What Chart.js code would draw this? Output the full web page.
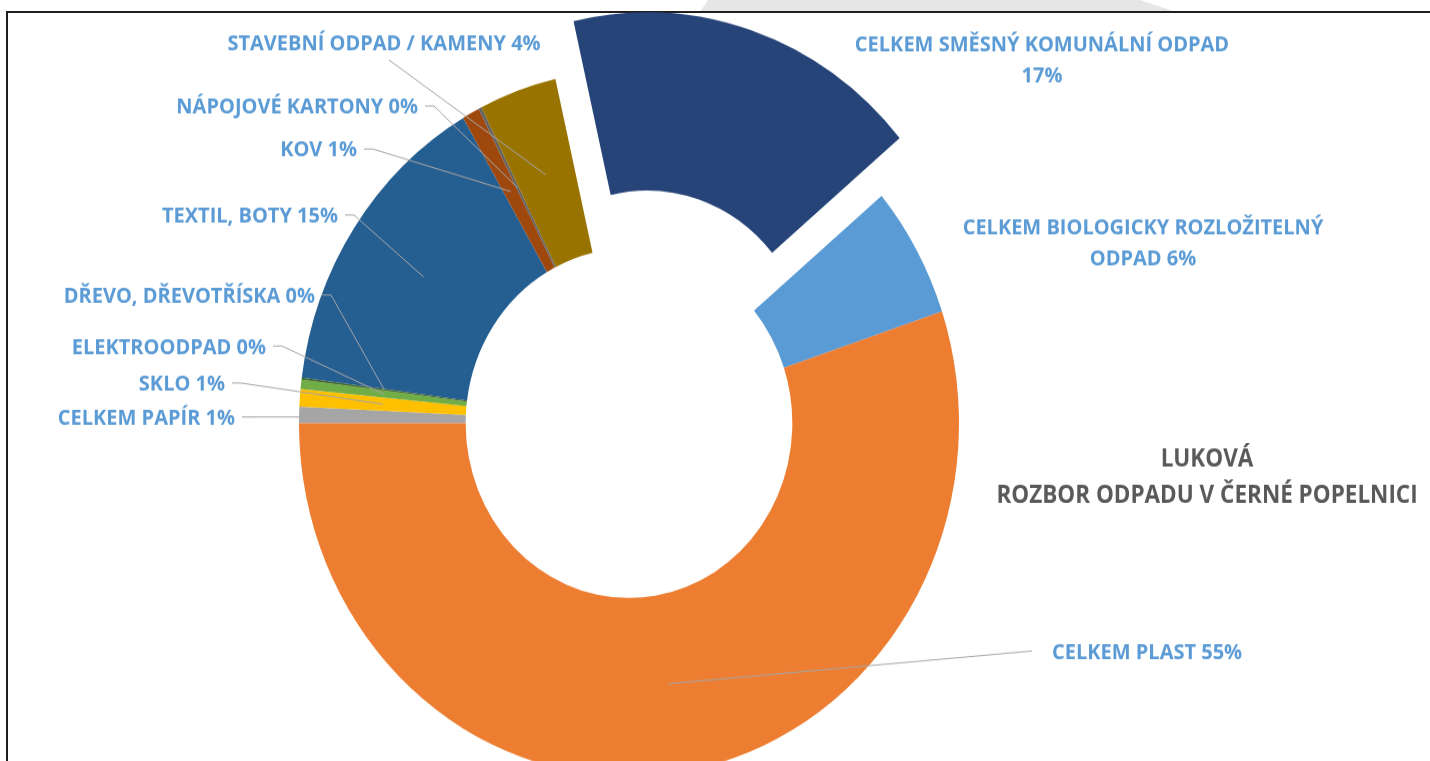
<!DOCTYPE html>
<html>
<head>
<meta charset="utf-8">
<title>Luková - rozbor odpadu</title>
<script src="https://cdn.jsdelivr.net/npm/chart.js@4.4.1/dist/chart.umd.min.js"></script>
<style>
    html, body { margin: 0; padding: 0; background: #fff; overflow: hidden; width: 1430px; height: 761px; }
    #strip { position: absolute; left: 0; top: 0; width: 1430px; height: 12px; background: #e6e6e6;
             clip-path: polygon(700px 12px, 708px 0, 1140px 0, 1176px 12px); }
    #frame { position: absolute; left: 6px; top: 11px; width: 1440px; height: 800px;
             border-left: 2px solid #1e1e1e; border-top: 2px solid #1e1e1e; }
    #wrap { position: absolute; left: 0; top: 0; width: 1430px; height: 712px;
            transform: scaleY(1.07); transform-origin: 0 0; }
</style>
</head>
<body>
<div id="strip"></div>
<div id="frame"></div>
<div id="wrap"><canvas id="graph" width="1430" height="712"></canvas></div>

<script>
// data, clockwise from 9 o'clock
const categories = [
    'CELKEM PAPÍR', 'SKLO', 'ELEKTROODPAD', 'DŘEVO, DŘEVOTŘÍSKA', 'TEXTIL, BOTY', 'KOV',
    'NÁPOJOVÉ KARTONY', 'STAVEBNÍ ODPAD / KAMENY', 'CELKEM SMĚSNÝ KOMUNÁLNÍ ODPAD',
    'CELKEM BIOLOGICKY ROZLOŽITELNÝ ODPAD', 'CELKEM PLAST'
];
const shares = [0.75, 0.8, 0.42, 0.1, 14.55, 0.85, 0.15, 3.8, 17.45, 6.0, 55.13];
const sliceColors = [
    '#A5A5A5', '#FFC000', '#70AD47', '#43682B', '#255E91', '#9E480E',
    '#636363', '#997300', '#264478', '#5B9BD5', '#ED7D31'
];
const titleLines = ['LUKOVÁ', 'ROZBOR ODPADU V ČERNÉ POPELNICI'];

// the source picture is stretched in height, the wrapper does the same
const S = 1.07;
const explodedIndex = 8;
const PULL = 57;

// label places, in picture pixels
const labelLayout = [
    { x: 235, y: 417, align: 'right' },
    { x: 225, y: 383, align: 'right' },
    { x: 266, y: 346, align: 'right' },
    { x: 315, y: 295, align: 'right' },
    { x: 338, y: 215, align: 'right' },
    { x: 357, y: 149, align: 'right' },
    { x: 418, y: 106, align: 'right' },
    { x: 384, y: 42.5, align: 'center', from: [389, 60] },
    { x: 1042, y: 44, align: 'center', breakAt: 4, noLeader: true },
    { x: 1143, y: 227, align: 'center', breakAt: 3, noLeader: true },
    { x: 1052, y: 651, align: 'left' }
];
const titleLayout = { x: 1207, y: 458, gap: 36 };

const LABEL_SIZE = 20;
const TITLE_SIZE = 22.5;

// pull the exploded slice out as a plain shift, like the office chart does
const explodePlugin = {
    id: 'explode',
    beforeDatasetsDraw(chart) {
        const arc = chart.getDatasetMeta(0).data[explodedIndex];
        if (!arc || arc._pulled) return;
        const drawArc = arc.draw;
        arc.draw = function (ctx, area) {
            const mid = (this.startAngle + this.endAngle) / 2;
            ctx.save();
            ctx.translate(Math.cos(mid) * PULL, Math.sin(mid) * PULL);
            drawArc.call(this, ctx, area);
            ctx.restore();
        };
        arc._pulled = true;
    }
};

const labelsPlugin = {
    id: 'labels',
    afterDatasetsDraw(chart) {
        const ctx = chart.ctx;
        const arcs = chart.getDatasetMeta(0).data;
        const total = shares.reduce((a, b) => a + b, 0);

        ctx.save();
        // leader lines
        ctx.strokeStyle = '#A6A6A6';
        ctx.lineWidth = 1;
        arcs.forEach(function (arc, i) {
            const lay = labelLayout[i];
            if (lay.noLeader) return;
            const p = arc.tooltipPosition();
            ctx.beginPath();
            if (lay.from) {
                ctx.moveTo(lay.from[0], lay.from[1] / S);
            } else if (lay.align === 'right') {
                ctx.moveTo(lay.x + 7, lay.y / S);
                ctx.lineTo(lay.x + 16, lay.y / S);
            } else {
                ctx.moveTo(lay.x - 20, lay.y / S);
            }
            ctx.lineTo(p.x, p.y);
            ctx.stroke();
        });

        // label texts
        ctx.font = 'bold ' + LABEL_SIZE + 'px "Open Sans"';
        ctx.fillStyle = '#5B9BD5';
        ctx.textBaseline = 'alphabetic';
        categories.forEach(function (name, i) {
            const lay = labelLayout[i];
            const pct = Math.round(shares[i] / total * 100) + '%';
            const words = (name + ' ' + pct).split(' ');
            let lines = [words.join(' ')];
            if (lay.breakAt) {
                lines = [words.slice(0, lay.breakAt).join(' '), words.slice(lay.breakAt).join(' ')];
            }
            ctx.textAlign = lay.align;
            lines.forEach(function (line, k) {
                ctx.fillText(line, lay.x, (lay.y + k * 31) / S + 0.357 * LABEL_SIZE);
            });
        });

        // chart title
        ctx.font = 'bold ' + TITLE_SIZE + 'px "Open Sans"';
        ctx.fillStyle = '#595959';
        ctx.textAlign = 'center';
        titleLines.forEach(function (line, k) {
            ctx.fillText(line, titleLayout.x, (titleLayout.y + k * titleLayout.gap) / S + 0.357 * TITLE_SIZE);
        });
        ctx.restore();
    }
};

const graph = document.getElementById('graph').getContext('2d');

new Chart(graph, {
    type: 'doughnut',
    data: {
        labels: categories,
        datasets: [{
            data: shares,
            backgroundColor: sliceColors,
            borderWidth: 0,
            hoverOffset: 0,
            clip: false
        }]
    },
    options: {
        responsive: false,
        animation: false,
        rotation: -90,
        radius: 330,
        cutout: '49.5%',
        layout: {
            padding: { left: 0, right: 172, top: 79, bottom: 0 }
        },
        plugins: {
            legend: { display: false },
            tooltip: { enabled: false }
        }
    },
    plugins: [explodePlugin, labelsPlugin]
});
</script>
</body>
</html>
